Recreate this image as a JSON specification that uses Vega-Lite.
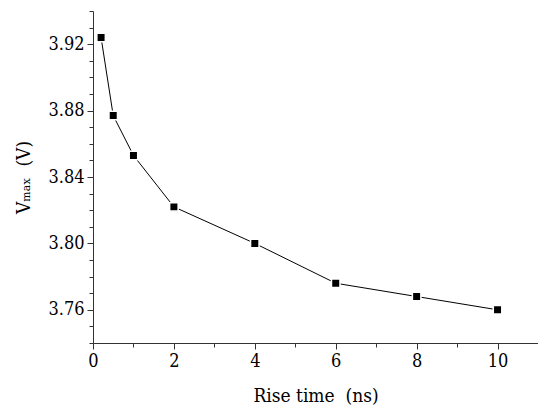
{
  "$schema": "https://vega.github.io/schema/vega-lite/v6.json",
  "width": 445,
  "height": 332,
  "autosize": {"type": "none"},
  "padding": {"left": 93, "top": 11, "right": 0, "bottom": 70},
  "background": "white",
  "config": {
    "view": {"stroke": null},
    "font": "DejaVu Serif Condensed, DejaVu Serif",
    "axis": {
      "domainColor": "#333333",
      "tickColor": "#333333",
      "labelColor": "black",
      "titleColor": "black",
      "labelFont": "DejaVu Serif Condensed, DejaVu Serif",
      "titleFont": "DejaVu Serif Condensed, DejaVu Serif",
      "labelFontSize": 18,
      "titleFontSize": 19,
      "titleFontWeight": "normal",
      "grid": false,
      "domainWidth": 1,
      "tickWidth": 1
    }
  },
  "data": {
    "values": [
      {"t": 0.2, "v": 3.924},
      {"t": 0.5, "v": 3.877},
      {"t": 1, "v": 3.853},
      {"t": 2, "v": 3.822},
      {"t": 4, "v": 3.800},
      {"t": 6, "v": 3.776},
      {"t": 8, "v": 3.768},
      {"t": 10, "v": 3.760}
    ]
  },
  "encoding": {
    "x": {
      "field": "t",
      "type": "quantitative",
      "scale": {"domain": [0, 11], "nice": false, "zero": false},
      "axis": {
        "title": "Rise time\u00a0\u00a0(ns)",
        "values": [0, 1, 2, 3, 4, 5, 6, 7, 8, 9, 10, 11],
        "labelExpr": "datum.value % 2 == 0 && datum.value <= 10 ? format(datum.value, 'd') : ''",
        "tickSize": {"expr": "datum.value % 2 == 0 ? 6 : 4"},
        "labelPadding": 3,
        "titlePadding": 16,
        "labelFlush": false,
        "labelOverlap": false
      }
    },
    "y": {
      "field": "v",
      "type": "quantitative",
      "scale": {"domain": [3.74, 3.94], "nice": false, "zero": false},
      "axis": {
        "title": "Vₘₐₓ\u00a0\u00a0(V)",
        "values": [3.74, 3.75, 3.76, 3.77, 3.78, 3.79, 3.80, 3.81, 3.82, 3.83, 3.84, 3.85, 3.86, 3.87, 3.88, 3.89, 3.90, 3.91, 3.92, 3.93, 3.94],
        "labelExpr": "round(datum.value * 100) % 4 == 0 ? format(datum.value, '.2f') : ''",
        "tickSize": {"expr": "round(datum.value * 100) % 4 == 0 ? 6 : 4"},
        "labelPadding": 3,
        "titlePadding": 14,
        "labelFlush": false,
        "labelOverlap": false
      }
    }
  },
  "layer": [
    {"mark": {"type": "line", "color": "black", "strokeWidth": 1}},
    {"mark": {"type": "square", "filled": true, "color": "black", "opacity": 1, "size": 72, "stroke": "white", "strokeWidth": 1.5}}
  ]
}
